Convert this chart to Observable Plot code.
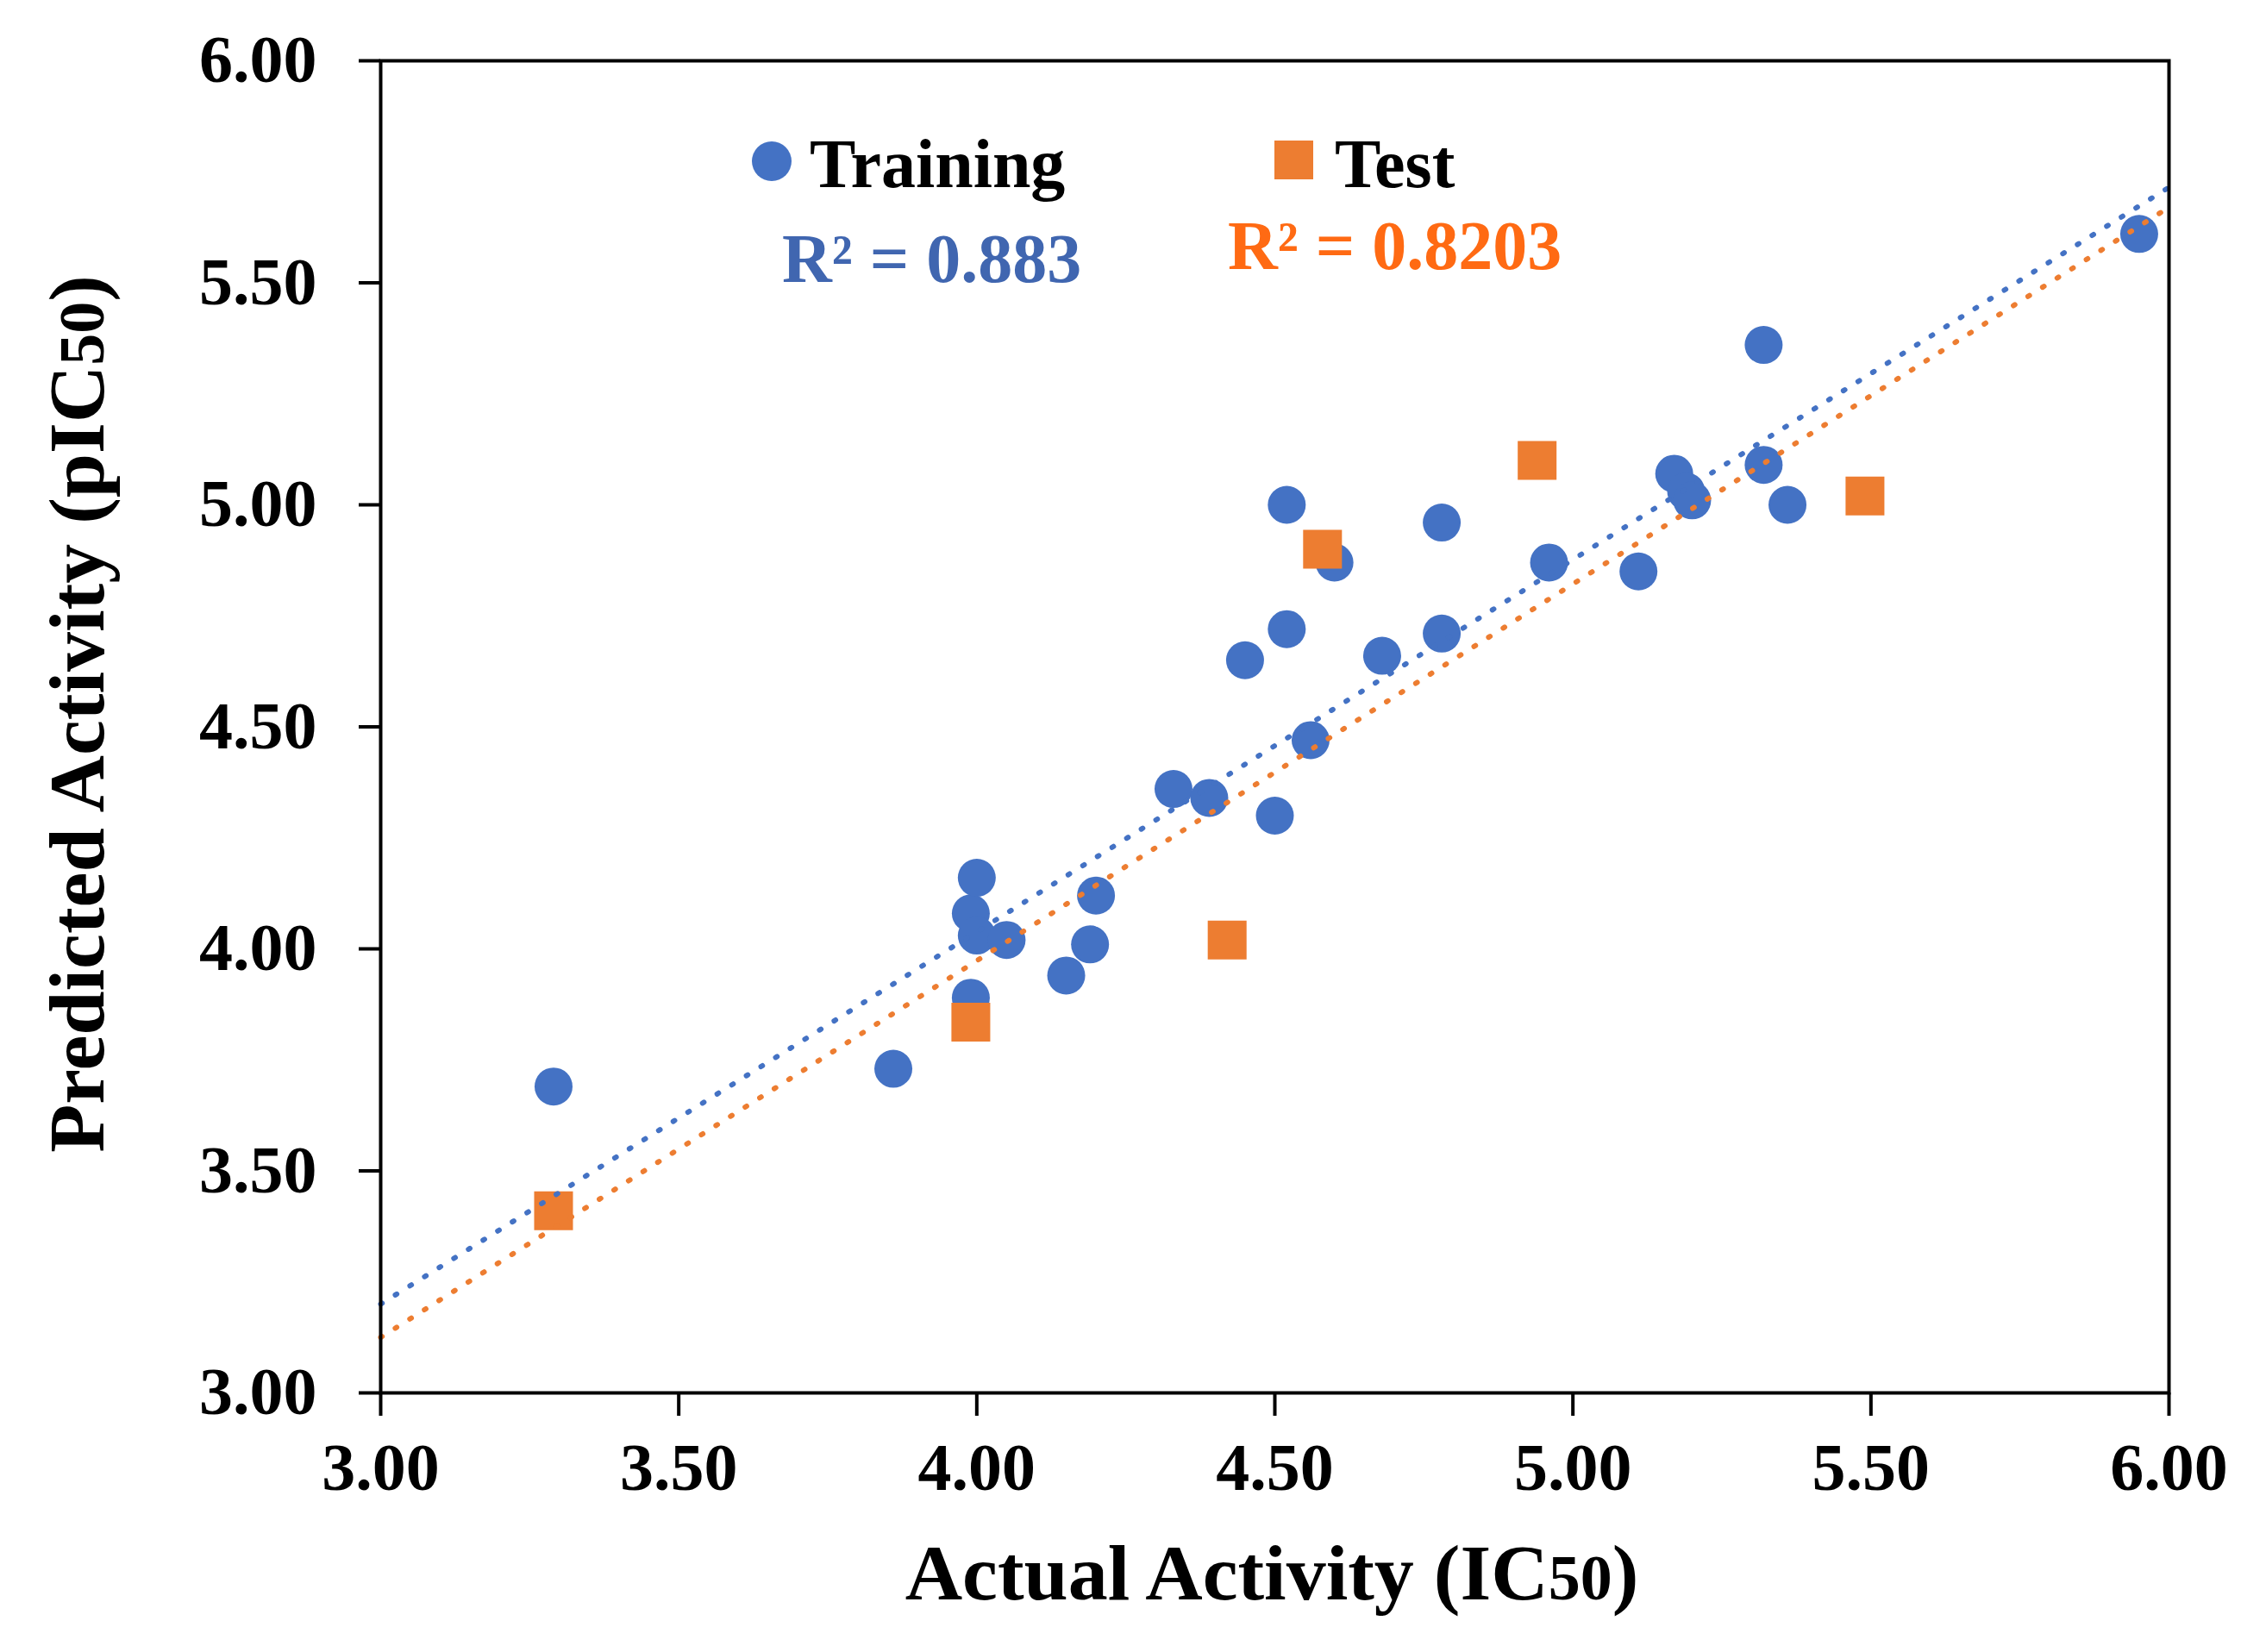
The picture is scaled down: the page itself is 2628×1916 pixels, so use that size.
<!DOCTYPE html>
<html>
<head>
<meta charset="utf-8">
<script src="https://cdn.jsdelivr.net/npm/d3@7"></script>
<script src="https://cdn.jsdelivr.net/npm/@observablehq/plot@0.6"></script>
<style>
  body { margin: 0; background: #fff; }
  svg { display: block; }
</style>
</head>
<body>
<div id="chart"></div>
<script>
// training set (blue circles)
const trainX = [3.29, 3.86, 3.99, 3.99, 4.00, 4.00, 4.05, 4.15, 4.19, 4.20,
                4.33, 4.39, 4.50, 4.56, 4.45, 4.52, 4.52, 4.60, 4.68, 4.78,
                4.78, 4.96, 5.11, 5.17, 5.19, 5.20, 5.32, 5.32, 5.36, 5.95];
const trainY = [3.69, 3.73, 3.89, 4.08, 4.16, 4.03, 4.02, 3.94, 4.01, 4.12,
                4.36, 4.34, 4.30, 4.47, 4.65, 4.72, 5.00, 4.87, 4.66, 4.71,
                4.96, 4.87, 4.85, 5.07, 5.03, 5.01, 5.09, 5.36, 5.00, 5.61];

// test set (orange squares)
const testX = [3.29, 3.99, 4.42, 4.58, 4.94, 5.49];
const testY = [3.41, 3.835, 4.02, 4.90, 5.10, 5.02];

// linear trendlines, read at both ends of the x axis
const trendX = [3.00, 6.00];
const trainTrendY = [3.20, 5.715];
const testTrendY = [3.125, 5.67];

const tickValues = [3.0, 3.5, 4.0, 4.5, 5.0, 5.5, 6.0];

const blue = "#4472C4";
const orange = "#ED7D31";
const serif = "'Liberation Serif', 'Times New Roman', serif";

const train = trainX.map((x, i) => ({x, y: trainY[i]}));
const test = testX.map((x, i) => ({x, y: testY[i]}));
const trainTrend = trendX.map((x, i) => ({x, y: trainTrendY[i]}));
const testTrend = trendX.map((x, i) => ({x, y: testTrendY[i]}));

const chart = Plot.plot({
  width: 2628,
  height: 1916,
  marginLeft: 441,
  marginRight: 113,
  marginTop: 70,
  marginBottom: 301,
  style: {fontFamily: serif, fontWeight: "bold", background: "white", color: "black"},
  x: {domain: [3, 6]},
  y: {domain: [3, 6]},
  marks: [
    Plot.axisX({ticks: tickValues, tickFormat: d3.format(".2f"), tickSize: 27, tickPadding: 30,
                fontSize: 78, strokeWidth: 4, label: null}),
    Plot.axisY({ticks: tickValues, tickFormat: d3.format(".2f"), tickSize: 25, tickPadding: 49,
                fontSize: 78, strokeWidth: 4, label: null}),
    Plot.dot(train, {x: "x", y: "y", r: 22, fill: blue}),
    Plot.dot(test, {x: "x", y: "y", symbol: "square", r: 25.4, fill: orange}),
    Plot.line(trainTrend, {x: "x", y: "y", stroke: blue, strokeWidth: 6,
                           strokeDasharray: "2,18", strokeLinecap: "round"}),
    Plot.line(testTrend, {x: "x", y: "y", stroke: orange, strokeWidth: 6,
                          strokeDasharray: "2,18", strokeLinecap: "round"}),
    Plot.frame({stroke: "black", strokeWidth: 4})
  ]
});

document.getElementById("chart").append(chart);

// axis titles and the in-plot legend
const svg = d3.select(chart);

const xt = svg.append("text")
  .attr("x", 1475).attr("y", 1855)
  .attr("text-anchor", "middle")
  .style("font", `bold 92px ${serif}`);
xt.append("tspan").text("Actual Activity (IC");
xt.append("tspan").style("font-size", "74px").text("50");
xt.append("tspan").text(")");

const yt = svg.append("text")
  .attr("transform", "translate(120,828) rotate(-90)")
  .attr("text-anchor", "middle")
  .style("font", `bold 92px ${serif}`);
yt.append("tspan").text("Predicted Activity (pIC");
yt.append("tspan").style("font-size", "74px").text("50");
yt.append("tspan").text(")");

const lg = svg.append("g")
  .attr("text-anchor", "start")
  .style("font", `bold 80px ${serif}`);
lg.append("circle").attr("cx", 895).attr("cy", 187).attr("r", 23).attr("fill", blue);
lg.append("text").attr("x", 939).attr("y", 217).text("Training");
lg.append("rect").attr("x", 1478).attr("y", 163).attr("width", 45).attr("height", 45).attr("fill", orange);
lg.append("text").attr("x", 1548).attr("y", 217).text("Test");
lg.append("text").attr("x", 907).attr("y", 327).attr("fill", "#4066B0").text("R² = 0.883");
lg.append("text").attr("x", 1424).attr("y", 312).attr("fill", "#FF6A13").text("R² = 0.8203");
</script>
</body>
</html>
